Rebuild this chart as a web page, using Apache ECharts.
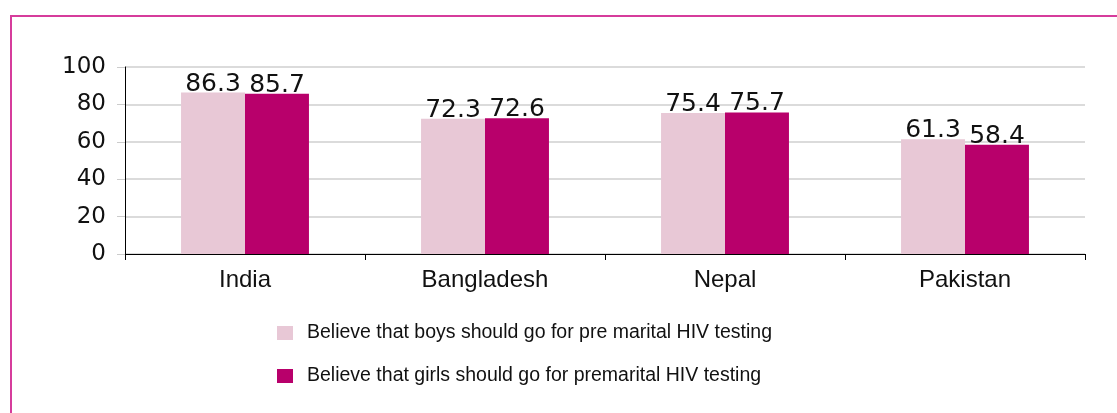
<!DOCTYPE html>
<html><head><meta charset="utf-8">
<script src="https://cdn.jsdelivr.net/npm/echarts@6/dist/echarts.min.js"></script>
<style>html,body{margin:0;padding:0;background:#fff}#c{width:1117px;height:413px}</style>
</head><body><div id="c"></div>
<script>
const categories = ['India', 'Bangladesh', 'Nepal', 'Pakistan'];
const boysValues = [86.3, 72.3, 75.4, 61.3];
const girlsValues = [85.7, 72.6, 75.7, 58.4];
const seriesNames = ['Believe that boys should go for pre marital HIV testing', 'Believe that girls should go for premarital HIV testing'];
const yTicks = [0, 20, 40, 60, 80, 100];

const chart = echarts.init(document.getElementById('c'), null, {renderer: 'canvas'});
const labelStyle = {show: true, position: 'top', distance: 0, offset: [0, 4], color: '#111', fontSize: 25, fontFamily: 'DejaVu Sans, sans-serif'};
chart.setOption({
  animation: false,
  backgroundColor: '#fff',
  graphic: [{type: 'rect', shape: {x: 11, y: 16, width: 1200, height: 500}, style: {fill: 'none', stroke: '#d63c9c', lineWidth: 2}, z: 100}],
  grid: {left: 125, right: 32, top: 67, bottom: 159},
  legend: {
    orient: 'vertical', left: 277, top: 323, padding: 0, itemGap: 23, itemWidth: 16, itemHeight: 14,
    icon: 'rect',
    textStyle: {fontSize: 19.5, color: '#111', fontFamily: 'Liberation Sans, Arial, sans-serif', padding: [0, 0, 0, 9]},
    data: seriesNames
  },
  xAxis: {
    type: 'category', data: categories,
    axisLine: {lineStyle: {color: '#000', width: 1}},
    axisTick: {show: true, length: 6, lineStyle: {color: '#000'}},
    axisLabel: {fontSize: 24, color: '#111', margin: 14, fontFamily: 'Liberation Sans, Arial, sans-serif'}
  },
  yAxis: {
    type: 'value', min: yTicks[0], max: yTicks[yTicks.length - 1], interval: 20,
    axisLine: {show: true, lineStyle: {color: '#000'}},
    axisTick: {show: true, length: 8, lineStyle: {color: '#ccc'}},
    splitLine: {lineStyle: {color: '#cfcfcf', width: 1.5}},
    axisLabel: {fontSize: 23, color: '#111', margin: 19, fontFamily: 'DejaVu Sans, sans-serif'}
  },
  series: [
    {name: seriesNames[0], type: 'bar', data: boysValues, barGap: '0%', barCategoryGap: '46.7%', itemStyle: {color: '#e8c8d6'}, label: labelStyle},
    {name: seriesNames[1], type: 'bar', data: girlsValues, barGap: '0%', barCategoryGap: '46.7%', itemStyle: {color: '#b8006b'}, label: labelStyle}
  ]
});
</script></body></html>
